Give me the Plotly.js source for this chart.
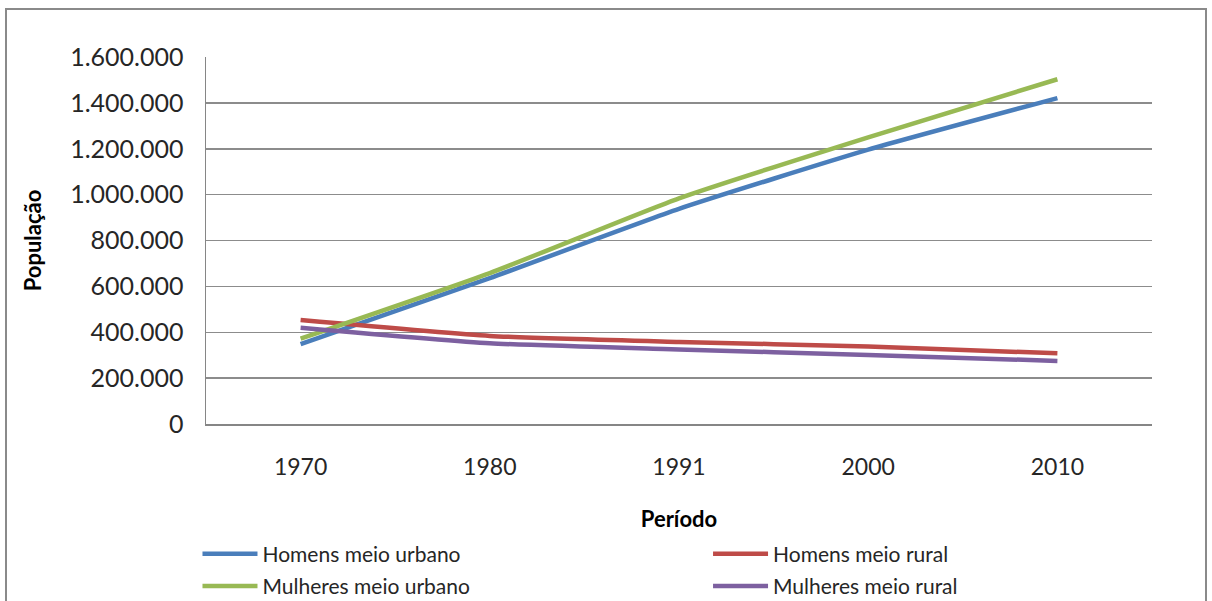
<!DOCTYPE html>
<html>
<head>
<meta charset="utf-8">
<script src="https://cdn.plot.ly/plotly-3.0.1.min.js"></script>
<style>
  html, body { margin: 0; padding: 0; background: #ffffff; overflow: hidden; }
  #wrap { position: relative; width: 1212px; height: 601px; overflow: hidden; }
  #chart { width: 1212px; height: 660px; }
  #frame { position: absolute; left: 5px; top: 8px; width: 1198px; height: 620px;
           border: 2px solid #8a8a8a; pointer-events: none; }
</style>
</head>
<body>
<div id="wrap">
  <div id="chart"></div>
  <div id="frame"></div>
</div>
<script>
const periods = ['1970', '1980', '1991', '2000', '2010'];
const homensUrbano   = [348000, 636000, 938000, 1196000, 1421000];
const homensRural    = [453000, 384000, 358000, 338000, 308000];
const mulheresUrbano = [372000, 658000, 984000, 1250000, 1503000];
const mulheresRural  = [420000, 352000, 325000, 301000, 275000];
const seriesNames = ['Homens meio urbano', 'Homens meio rural', 'Mulheres meio urbano', 'Mulheres meio rural'];
const seriesColors = ['#4A7EBB', '#BE4B48', '#98B954', '#7D60A0'];
const seriesLegend = ['legend', 'legend2', 'legend', 'legend2'];
const yTicks = [0, 200000, 400000, 600000, 800000, 1000000, 1200000, 1400000, 1600000];

const allSeries = [homensUrbano, homensRural, mulheresUrbano, mulheresRural];
const traces = allSeries.map((vals, i) => ({
  type: 'scatter',
  mode: 'lines',
  x: periods,
  y: vals,
  name: seriesNames[i],
  legend: seriesLegend[i],
  legendgroup: 'g' + i,
  line: { color: seriesColors[i], width: 4.5, shape: 'spline', smoothing: 0.5 },
  hoverinfo: 'x+y+name'
}));

const legendCommon = {
  orientation: 'v',
  xanchor: 'left',
  y: -0.2985,
  yanchor: 'top',
  itemwidth: 55,
  traceorder: 'grouped',
  tracegroupgap: 2,
  font: { size: 21, color: '#262626' },
  bgcolor: 'rgba(0,0,0,0)'
};

const layout = {
  width: 1212,
  height: 660,
  paper_bgcolor: '#ffffff',
  plot_bgcolor: '#ffffff',
  separators: ',.',
  margin: { l: 206, r: 60, t: 57, b: 236 },
  font: { family: 'Lato, "Open Sans", sans-serif', size: 23, color: '#262626' },
  showlegend: true,
  xaxis: {
    type: 'category',
    range: [-0.5, 4.5],
    showgrid: false,
    zeroline: false,
    showline: true,
    linecolor: '#868686',
    linewidth: 1.5,
    ticks: '',
    ticklabelstandoff: 22,
    tickfont: { size: 23, color: '#262626' },
    title: { text: '<b>Período</b>', font: { size: 22, color: '#000000' }, standoff: 32 },
    fixedrange: true
  },
  yaxis: {
    range: [0, 1600000],
    tickvals: yTicks,
    tickformat: ',d',
    showgrid: true,
    gridcolor: '#8c8c8c',
    gridwidth: 1.5,
    zeroline: false,
    showline: true,
    linecolor: '#868686',
    linewidth: 1.5,
    ticks: '',
    ticklabelstandoff: 16,
    tickfont: { size: 25, color: '#262626' },
    title: { text: '<b>População</b>', font: { size: 22, color: '#000000' }, standoff: 22 },
    fixedrange: true
  },
  legend: Object.assign({}, legendCommon, { x: -0.009 }),
  legend2: Object.assign({}, legendCommon, { x: 0.5307 })
};

Plotly.newPlot('chart', traces, layout, { displayModeBar: false, staticPlot: true });
</script>
</body>
</html>
